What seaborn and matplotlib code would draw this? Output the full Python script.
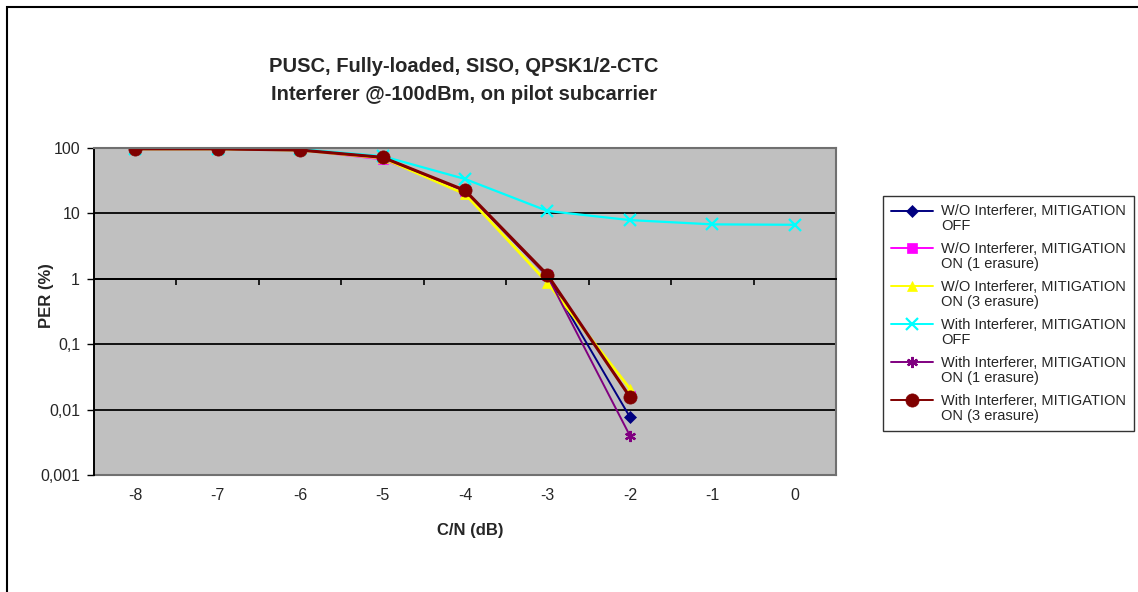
import matplotlib
matplotlib.use("Agg")
import matplotlib.pyplot as plt
import seaborn as sns
import pandas as pd
import numpy as np
from matplotlib.patches import Rectangle
from matplotlib.ticker import FixedLocator, FixedFormatter, NullLocator

sns.set_style("white")
plt.rcParams['font.family'] = ['Liberation Sans', 'DejaVu Sans']

# ---- data ----
cn_db = [-8, -7, -6, -5, -4, -3, -2, -1, 0]
wo_off = [97, 97, 93, 72, 22, 1.1, 0.0077]
wo_on1 = [97, 97, 93, 67, 22, 1.15, 0.016]
wo_on3 = [97, 97, 93, 70, 19.8, 0.87, 0.021]
wi_off = [97, 97, 96, 75, 33.6, 10.9, 7.9, 6.8, 6.7]
wi_on1 = [97, 97, 93, 72, 22, 1.1, 0.004]
wi_on3 = [97, 97, 93, 72, 22.5, 1.15, 0.0156]

labels = ["W/O Interferer, MITIGATION\nOFF",
          "W/O Interferer, MITIGATION\nON (1 erasure)",
          "W/O Interferer, MITIGATION\nON (3 erasure)",
          "With Interferer, MITIGATION\nOFF",
          "With Interferer, MITIGATION\nON (1 erasure)",
          "With Interferer, MITIGATION\nON (3 erasure)"]
series = [wo_off, wo_on1, wo_on3, wi_off, wi_on1, wi_on3]
ytick_vals = [0.001, 0.01, 0.1, 1, 10, 100]
ytick_labels = ["0,001", "0,01", "0,1", "1", "10", "100"]

colors = ["#000080", "#FF00FF", "#FFFF00", "#00FFFF", "#800080", "#800000"]
markers = ["D", "s", "^", "x", (6, 2, 0), "o"]
msizes = [6.5, 7, 7.5, 8, 8, 9.5]
lws = [1.4, 1.4, 2.0, 1.6, 1.4, 2.2]

fig = plt.figure(figsize=(11.38, 5.92), dpi=100)
ax = fig.add_axes([94/1138, (592-475)/592, (836-94)/1138, (475-148)/592])
ax.set_facecolor("#C0C0C0")

for vals, lab, c, m, ms, lw in zip(series, labels, colors, markers, msizes, lws):
    df = pd.DataFrame({"cn": cn_db[:len(vals)], "per": vals})
    sns.lineplot(data=df, x="cn", y="per", ax=ax, color=c, marker=m,
                 markersize=ms, linewidth=lw, label=lab,
                 markeredgecolor=c, markeredgewidth=1.6 if m in ("x", (6, 2, 0)) else 0.5)

ax.set_yscale("log")
ax.set_ylim(0.001, 100)
ax.set_xlim(cn_db[0] - 0.5, cn_db[-1] + 0.5)
ax.yaxis.set_major_locator(FixedLocator(ytick_vals))
ax.yaxis.set_major_formatter(FixedFormatter(ytick_labels))
ax.yaxis.set_minor_locator(NullLocator())
ax.tick_params(axis="y", direction="out", length=5, width=1, color="black",
               labelsize=11.5, pad=5, left=True)
for v in ytick_vals[1:-1]:
    ax.axhline(v, color="#111111", lw=1.4, zorder=1)

# category axis crossing at 1
ax.spines["bottom"].set_position(("data", 1))
ax.spines["bottom"].set_color("black")
ax.spines["bottom"].set_linewidth(1.4)
bounds = [x + 0.5 for x in cn_db[:-1]]
ax.xaxis.set_major_locator(FixedLocator(bounds))
ax.xaxis.set_minor_locator(NullLocator())
ax.tick_params(axis="x", direction="out", length=4, width=1.2, color="black",
               labelbottom=False, bottom=True)
ax.set_xlabel("")
ax.set_ylabel("")

sec = ax.secondary_xaxis(0)
sec.xaxis.set_major_locator(FixedLocator(cn_db))
sec.set_xticklabels([str(v) for v in cn_db])
sec.tick_params(length=0, labelsize=11.5, pad=9)
sec.spines["bottom"].set_color("#707070")
sec.spines["bottom"].set_linewidth(1.5)

ax.spines["left"].set_color("black")
ax.spines["left"].set_linewidth(1.4)
for s in ("top", "right"):
    ax.spines[s].set_color("#707070")
    ax.spines[s].set_linewidth(1.5)
    ax.spines[s].set_visible(True)

fig.text(464/1138, 1 - 66/592, "PUSC, Fully-loaded, SISO, QPSK1/2-CTC",
         ha="center", va="center", fontsize=14.5, fontweight="bold")
fig.text(464/1138, 1 - 94/592, "Interferer @-100dBm, on pilot subcarrier",
         ha="center", va="center", fontsize=14.5, fontweight="bold")
fig.text(47/1138, 1 - 296/592, "PER (%)", rotation=90, ha="center", va="center",
         fontsize=12, fontweight="bold")
fig.text(470/1138, 1 - 530/592, "C/N (dB)", ha="center", va="center",
         fontsize=12, fontweight="bold")

leg = ax.legend(loc="upper left", bbox_to_anchor=(883/1138, 1 - 196/592),
                bbox_transform=fig.transFigure, fontsize=10.5, frameon=True,
                fancybox=False, edgecolor="black", handlelength=2.9,
                borderpad=0.55, labelspacing=0.62, handletextpad=0.55,
                borderaxespad=0)
leg.get_frame().set_linewidth(1.0)
leg.get_frame().set_facecolor("white")
for t in leg.get_texts():
    t.set_linespacing(1.08)
for line in leg.get_lines():
    line.set_linewidth(1.4)
    line.set_ydata(np.asarray(line.get_ydata()) + 6.0)

fig.patches.append(Rectangle((7/1138, -0.1), 1.2, 1 - 7/592 + 0.1,
                             transform=fig.transFigure, fill=False,
                             edgecolor="black", linewidth=1.5))

fig.savefig("out.png", dpi=100)
